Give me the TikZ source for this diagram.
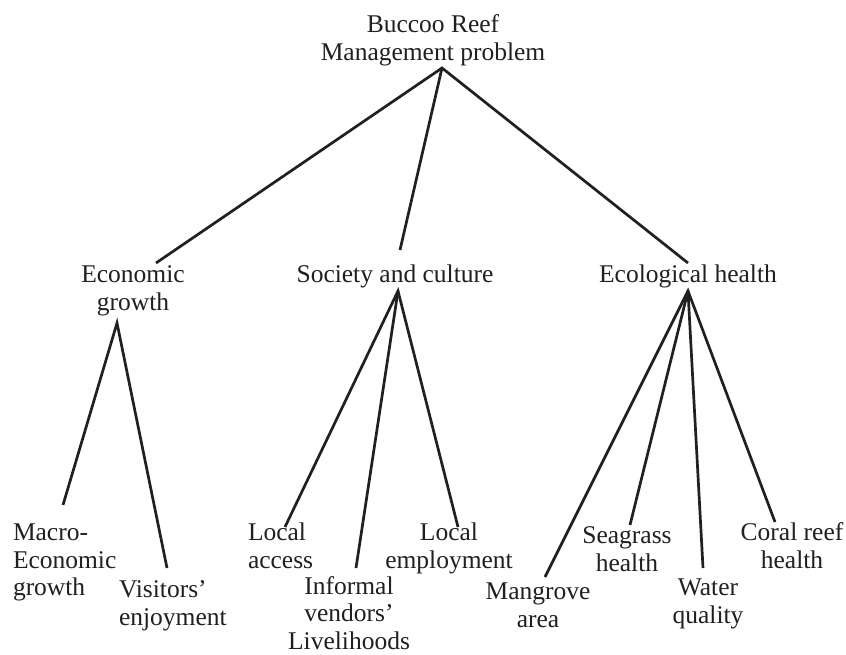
\documentclass[tikz,border=0pt]{standalone}
\usepackage{fontspec}
\setmainfont{Liberation Serif}
\definecolor{ink}{HTML}{231F20}
\begin{document}
\begin{tikzpicture}[x=1pt,y=-1pt,
  label/.style={inner sep=0pt,outer sep=0pt,text=ink,
    font={\fontsize{25.5}{27.5}\selectfont}},
  branch/.style={draw=ink,line width=2.7pt}]
\useasboundingbox[fill=white] (0,0) rectangle (846,655);

% root
\node[label,anchor=north,align=center] (root) at (433,13.5)
  {\strut Buccoo Reef\\\strut Management problem};

% first level
\node[label,anchor=north,align=center] (econ) at (133,263.5)
  {\strut Economic\\\strut growth};
\node[label,anchor=north,align=center] (soc) at (395,263.5)
  {\strut Society and culture};
\node[label,anchor=north,align=center] (eco) at (688,263.5)
  {\strut Ecological health};

% second level
\node[label,anchor=north west,align=left] (macro) at (13,521.5)
  {\strut Macro-\\\strut Economic\\\strut growth};
\node[label,anchor=north west,align=left] (visit) at (119,578.5)
  {\strut Visitors'\\\strut enjoyment};
\node[label,anchor=north west,align=left] (access) at (248,521.5)
  {\strut Local\\\strut access};
\node[label,anchor=north,align=center] (vend) at (349,575)
  {\strut Informal\\\strut vendors'\\Livelihoods};
\node[label,anchor=north,align=center] (employ) at (449,521.5)
  {\strut Local\\\strut employment};
\node[label,anchor=north,align=center] (mang) at (538,580.5)
  {\strut Mangrove\\\strut area};
\node[label,anchor=north,align=center] (sea) at (627,524.5)
  {\strut Seagrass\\\strut health};
\node[label,anchor=north,align=center] (water) at (708,576.5)
  {\strut Water\\\strut quality};
\node[label,anchor=north,align=center] (coral) at (792,521.5)
  {\strut Coral reef\\\strut health};

% branch points and line ends
\coordinate (root-hub) at (442,68);
\coordinate (econ-top) at (156,263);
\coordinate (soc-top) at (400,250);
\coordinate (eco-top) at (688,263);
\coordinate (econ-hub) at (117,323);
\coordinate (soc-hub) at (398,291);
\coordinate (eco-hub) at (688,291);
\coordinate (macro-top) at (63,505);
\coordinate (visit-top) at (167,568);
\coordinate (access-top) at (285,527);
\coordinate (vend-top) at (356,568);
\coordinate (employ-top) at (458,527);
\coordinate (mang-top) at (545,577);
\coordinate (sea-top) at (630,525);
\coordinate (water-top) at (703,568);
\coordinate (coral-top) at (775,522);

% tree branches
\draw[branch] (econ-top) -- (root-hub) -- (eco-top);
\draw[branch] (root-hub) -- (soc-top);
\draw[branch] (macro-top) -- (econ-hub) -- (visit-top);
\draw[branch] (access-top) -- (soc-hub) -- (employ-top);
\draw[branch] (soc-hub) -- (vend-top);
\draw[branch] (mang-top) -- (eco-hub) -- (coral-top);
\draw[branch] (eco-hub) -- (sea-top);
\draw[branch] (eco-hub) -- (water-top);
\end{tikzpicture}
\end{document}
